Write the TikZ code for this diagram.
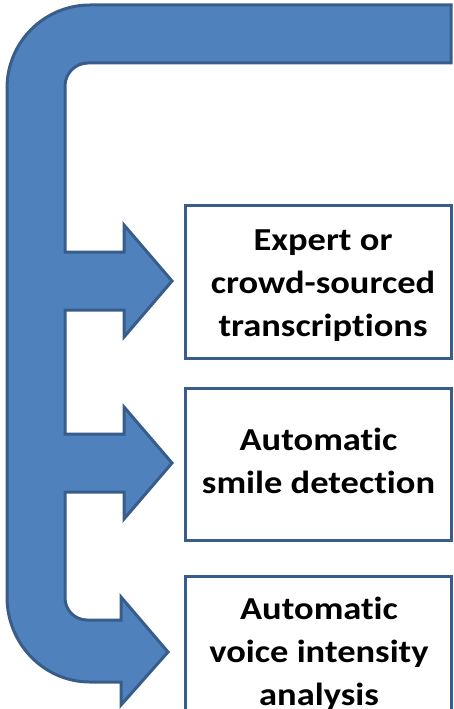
\documentclass[tikz,border=0pt]{standalone}
\usepackage{fontspec}
\setmainfont{Carlito}[FakeStretch=1.14, Ligatures=CommonOff]
\definecolor{bfill}{HTML}{4F81BD}
\definecolor{bline}{HTML}{385D8A}
\tikzset{
  flow/.style={fill=bfill, draw=bline, line width=3pt, line join=miter},
  stepbox/.style={draw=bline, line width=3pt, fill=white, minimum width=266pt, inner sep=0pt},
  lbl/.style={font=\fontsize{32}{43}\selectfont\bfseries, align=center, inner sep=0pt}
}
\begin{document}
\begin{tikzpicture}[x=1pt,y=-1pt]
\useasboundingbox (0,0) rectangle (453,709);
\clip (0,0) rectangle (453,709);
% bracket-shaped arrow with three heads
\draw[flow] (451,5) -- (451,63) -- (88,63)
  arc[start angle=270,end angle=180,radius=23] -- (65,252)
  -- (124,252) -- (124,225) -- (172,281) -- (124,337) -- (124,310) -- (65,310)
  -- (65,434) -- (124,434) -- (124,407) -- (172,463) -- (124,519) -- (124,492) -- (65,492)
  -- (65,598) arc[start angle=180,end angle=90,radius=22]
  -- (121,620) -- (121,597) -- (168,652) -- (121,705) -- (121,682) -- (90,682)
  arc[start angle=90,end angle=180,x radius=83,y radius=85]
  -- (7,88) arc[start angle=180,end angle=270,radius=83] -- cycle;
% boxes
\node[stepbox, minimum height=153pt] (box1) at (318,281.5) {};
\node[stepbox, minimum height=152pt] (box2) at (318,464) {};
\node[stepbox, minimum height=166pt] (box3) at (318,659) {};
% labels
\node[lbl] (t1) at (323,285.5) {Expert or\\crowd-sourced\\transcriptions};
\node[lbl] (t2) at (318.5,461) {Automatic\\smile detection};
\node[lbl] (t3) at (319,653.7) {Automatic\\voice intensity\\analysis};
\end{tikzpicture}
\end{document}
